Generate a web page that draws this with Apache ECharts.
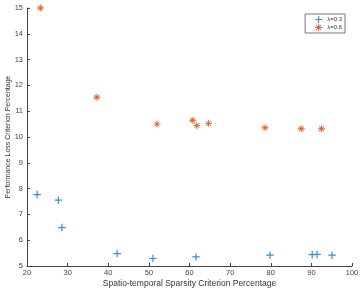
<!DOCTYPE html>
<html>
<head>
<meta charset="utf-8">
<script src="https://cdn.jsdelivr.net/npm/echarts@6/dist/echarts.min.js"></script>
<style>
  html, body { margin: 0; padding: 0; background: #fff; }
  #main { width: 363px; height: 293px; }
</style>
</head>
<body>
<div id="main"></div>
<script>
// lambda = 0.3
var xLow = [22.5, 27.7, 28.6, 42.2, 51.0, 61.6, 79.8, 90.2, 91.4, 95.1];
var yLow = [7.77, 7.55, 6.49, 5.48, 5.29, 5.35, 5.42, 5.44, 5.45, 5.42];
// lambda = 0.6
var xHigh = [23.3, 37.2, 52.0, 60.8, 61.8, 64.7, 78.6, 87.5, 92.5];
var yHigh = [15.0, 11.54, 10.5, 10.65, 10.44, 10.53, 10.36, 10.32, 10.32];

var seriesNames = ['λ=0.3', 'λ=0.6'];

var plusPath = 'path://M4.2,0H5.8V4.2H10V5.8H5.8V10H4.2V5.8H0V4.2H4.2Z';
var starPath = 'path://M0,4.4H10V5.6H0Z M4.4,0H5.6V10H4.4Z M1.2,2L2,1.2L8.8,8L8,8.8Z M8,1.2L8.8,2L2,8.8L1.2,8Z M5,3.2A1.8,1.8 0 1,1 4.99,3.2Z';

function pairs(xs, ys) {
    var out = [];
    xs.forEach(function (x, i) { out.push([x, ys[i]]); });
    return out;
}

var myCharts = echarts.init(document.getElementById('main'));

var axisText = { color: '#444', fontSize: 7.5, fontFamily: 'Liberation Sans' };

var option = {
    animation: false,
    grid: { left: 27, right: 11, top: 8, bottom: 27, containLabel: false, outerBoundsMode: 'none' },
    legend: {
        orient: 'vertical',
        right: 18,
        top: 14,
        padding: [2, 3, 2, 10],
        itemGap: 1,
        itemWidth: 7,
        itemHeight: 7,
        borderColor: '#777',
        borderWidth: 1,
        textStyle: { color: '#333', fontSize: 6, fontFamily: 'Liberation Sans' },
        data: [
            { name: seriesNames[0], icon: plusPath },
            { name: seriesNames[1], icon: starPath }
        ]
    },
    xAxis: {
        type: 'value',
        min: 20, max: 100, interval: 10,
        name: 'Spatio-temporal Sparsity Criterion Percentage',
        nameLocation: 'middle',
        nameGap: 13,
        nameMoveOverlap: false,
        nameTextStyle: { color: '#333', fontSize: 8.5, fontFamily: 'Liberation Sans' },
        axisLine: { lineStyle: { color: '#444', width: 1 } },
        axisTick: { inside: true, length: 3, lineStyle: { color: '#444' } },
        axisLabel: Object.assign({ margin: 3 }, axisText),
        splitLine: { show: false }
    },
    yAxis: {
        type: 'value',
        min: 5, max: 15, interval: 1,
        name: 'Performance Loss Criterion Percentage',
        nameLocation: 'middle',
        nameGap: 15,
        nameMoveOverlap: false,
        nameTextStyle: { color: '#333', fontSize: 7, fontFamily: 'Liberation Sans' },
        axisLine: { show: true, lineStyle: { color: '#444', width: 1 } },
        axisTick: { show: true, inside: true, length: 3, lineStyle: { color: '#444' } },
        axisLabel: Object.assign({ margin: 4 }, axisText),
        splitLine: { show: false }
    },
    series: [
        {
            name: seriesNames[0],
            type: 'scatter',
            symbol: plusPath,
            symbolSize: 7.5,
            itemStyle: { color: '#3a8fd0', opacity: 1 },
            data: pairs(xLow, yLow)
        },
        {
            name: seriesNames[1],
            type: 'scatter',
            symbol: starPath,
            symbolSize: 7,
            itemStyle: { color: '#e0622a', opacity: 1 },
            data: pairs(xHigh, yHigh)
        }
    ]
};

myCharts.setOption(option);
</script>
</body>
</html>
